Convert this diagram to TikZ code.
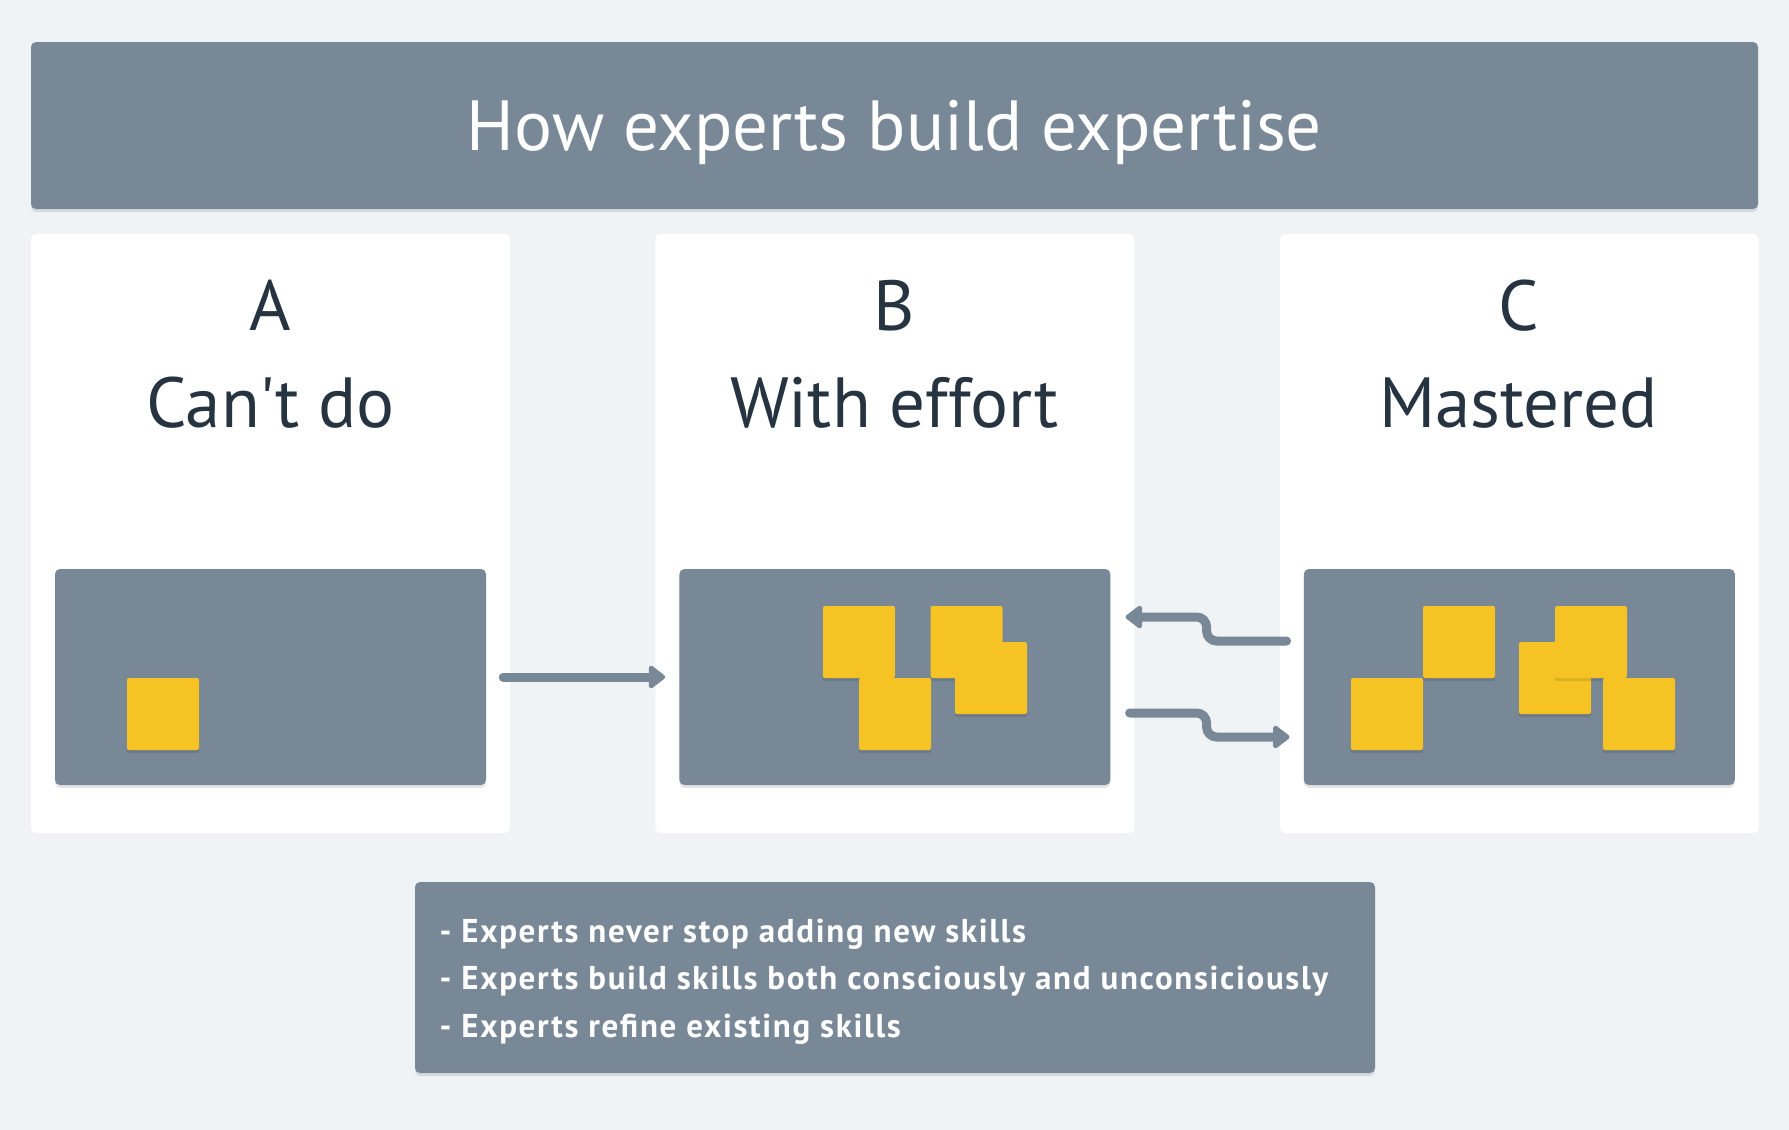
\documentclass[tikz,border=0pt]{standalone}
\usepackage{fontspec}
\setmainfont{PT Sans}
\newfontfamily\notefont[LetterSpace=5]{PT Sans}
\usetikzlibrary{positioning}
\usetikzlibrary{arrows.meta,shadows}

\definecolor{paper}{RGB}{239,243,246}
\definecolor{slate}{RGB}{121,136,151}
\definecolor{skill}{RGB}{246,195,36}
\definecolor{ink}{RGB}{38,51,64}

\tikzset{
  softshadow/.style={drop shadow={shadow xshift=0pt,shadow yshift=-3pt,opacity=0.10,fill=black}},
  banner/.style={fill=slate,rounded corners=5pt,inner sep=0pt,minimum width=1727pt,minimum height=167pt,softshadow},
  panel/.style={fill=white,rounded corners=5pt,inner sep=0pt,minimum width=479pt,minimum height=599pt},
  shelf/.style={fill=slate,rounded corners=5pt,inner sep=0pt,minimum width=431pt,minimum height=216pt,softshadow},
  skillbox/.style={fill=skill,rounded corners=2pt,inner sep=0pt,minimum size=72pt,softshadow},
  heading/.style={text=ink,font=\fontsize{71}{80}\selectfont,anchor=base},
  note/.style={text=white,font=\notefont\bfseries\fontsize{33}{40}\selectfont,anchor=base west},
  flow/.style={draw=slate,line width=9pt,line cap=round,rounded corners=10pt,-{Triangle[width=26pt,length=18pt,round]}}
}

\begin{document}
\begin{tikzpicture}[x=1pt,y=-1pt]
\fill[paper] (0,0) rectangle (1789,1130);
\useasboundingbox (0,0) rectangle (1789,1130);

% title bar
\node[banner] (title) at (894.5,125.5) {};
\node[text=white,font=\fontsize{71}{80}\selectfont,anchor=base] (titletext) at (894.5,150) {How experts build expertise};

% the three stages
\node[panel] (pA) at (270.5,533.5) {};
\node[panel,right=145pt of pA] (pB) {};
\node[panel,right=145pt of pB] (pC) {};

\node[heading] (letA) at (270.5,330) {A};
\node[heading] (letB) at (894.5,330) {B};
\node[heading] (letC) at (1518.5,330) {C};
\node[heading] (nameA) at (270.5,427) {Can\textquotesingle t do};
\node[heading] (nameB) at (894.5,427) {With effort};
\node[heading] (nameC) at (1518.5,427) {Mastered};

\node[shelf,above=48pt of pA.south] (inA) {};
\node[shelf,above=48pt of pB.south] (inB) {};
\node[shelf,above=48pt of pC.south] (inC) {};

% skills
\node[skillbox] (a1) at (163,714) {};

\node[skillbox] (b1) at (859,642) {};
\node[skillbox] (b2) at (966.5,642) {};
\node[skillbox] (b3) at (991,678) {};
\node[skillbox] (b4) at (895,714) {};

\node[skillbox] (c1) at (1387,714) {};
\node[skillbox] (c2) at (1459,642) {};
\node[skillbox] (c3) at (1555,678) {};
\node[skillbox] (c4) at (1591,642) {};
\node[skillbox] (c5) at (1639,714) {};

% arrows
\draw[flow] ([xshift=17pt]inA.east) -- ([xshift=-14pt]inB.west);
\draw[flow] ([xshift=-17pt,yshift=36pt]inC.west) -- ++(-80,0) |- ([xshift=15pt,yshift=60pt]inB.east);
\draw[flow] ([xshift=19pt,yshift=-36pt]inB.east) -- ++(77,0) |- ([xshift=-14pt,yshift=-60pt]inC.west);

% summary
\node[shelf,minimum width=960pt,minimum height=191pt] (summary) at (895,977.5) {};
\node[note] (n1) at (436,942) {- Experts never stop adding new skills};
\node[note] (n2) at (436,989.5) {- Experts build skills both consciously and unconsiciously};
\node[note] (n3) at (436,1037) {- Experts refine existing skills};

\end{tikzpicture}
\end{document}
